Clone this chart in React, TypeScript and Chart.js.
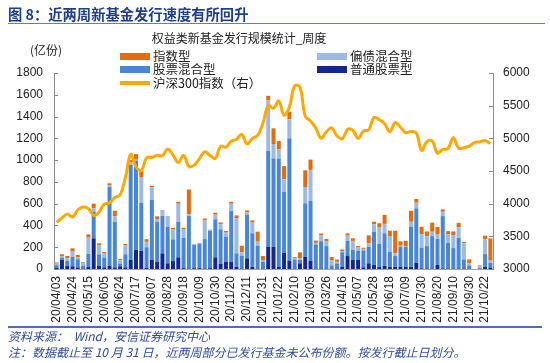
import React, { useEffect, useRef } from 'react';
import { Chart, registerables } from 'chart.js';

Chart.register(...registerables);

// Weekly categories (issue-end week)
const weeks = [
  '20/04/03', '20/04/10', '20/04/17', '20/04/24', '20/04/30', '20/05/08', '20/05/15', '20/05/22', '20/05/29', '20/06/05',
  '20/06/12', '20/06/19', '20/06/24', '20/07/03', '20/07/10', '20/07/17', '20/07/24', '20/07/31', '20/08/07', '20/08/14',
  '20/08/21', '20/08/28', '20/09/04', '20/09/11', '20/09/18', '20/09/25', '20/09/30', '20/10/09', '20/10/16', '20/10/23',
  '20/10/30', '20/11/06', '20/11/13', '20/11/20', '20/11/27', '20/12/04', '20/12/11', '20/12/18', '20/12/25', '20/12/31',
  '21/01/08', '21/01/15', '21/01/22', '21/01/29', '21/02/05', '21/02/10', '21/02/19', '21/02/26', '21/03/05', '21/03/12',
  '21/03/19', '21/03/26', '21/04/02', '21/04/09', '21/04/16', '21/04/23', '21/04/30', '21/05/07', '21/05/14', '21/05/21',
  '21/05/28', '21/06/04', '21/06/11', '21/06/18', '21/06/25', '21/07/02', '21/07/09', '21/07/16', '21/07/23', '21/07/30',
  '21/08/06', '21/08/13', '21/08/20', '21/08/27', '21/09/03', '21/09/10', '21/09/17', '21/09/24', '21/09/30', '21/10/08',
  '21/10/15', '21/10/22', '21/10/29',
];

// 普通股票型 (亿份)
const stockFund = [
  10, 85, 30, 25, 15, 5, 18, 282, 30, 15,
  30, 15, 25, 15, 85, 177, 168, 10, 86, 64,
  144, 52, 73, 107, 8, 5, 8, 8, 5, 8,
  107, 46, 67, 67, 20, 5, 98, 20, 5, 5,
  205, 205, 20, 150, 77, 5, 52, 113, 77, 5,
  5, 5, 5, 5, 21, 119, 83, 83, 15, 52,
  37, 20, 28, 21, 21, 21, 21, 21, 58, 6,
  5, 5, 37, 6, 5, 5, 5, 5, 5, 0,
  3, 21, 9,
];

// 股票混合型
const stockMixed = [
  25, 20, 45, 85, 75, 25, 120, 245, 105, 90,
  722, 416, 25, 120, 870, 818, 438, 190, 551, 367,
  343, 337, 199, 327, 279, 484, 212, 224, 270, 343,
  349, 318, 230, 465, 124, 117, 398, 308, 209, 62,
  880, 811, 995, 560, 1123, 83, 31, 490, 548, 220,
  251, 205, 28, 46, 132, 138, 92, 86, 155, 153,
  306, 210, 300, 138, 98, 184, 184, 367, 499, 190,
  205, 297, 239, 480, 235, 187, 281, 83, 28, 0,
  5, 116, 46,
];

// 偏债混合型
const bondMixed = [
  15, 10, 25, 50, 20, 20, 150, 30, 83, 37,
  15, 52, 28, 80, 25, 15, 239, 49, 113, 28,
  55, 98, 95, 165, 80, 15, 9, 9, 171, 12,
  43, 46, 37, 67, 324, 31, 24, 98, 37, 15,
  465, 132, 83, 113, 174, 9, 15, 150, 285, 15,
  52, 46, 46, 15, 12, 49, 83, 28, 15, 31,
  67, 150, 86, 144, 24, 9, 5, 46, 52, 125,
  92, 40, 40, 40, 77, 119, 98, 147, 18, 0,
  15, 135, 21,
];

// 指数型
const indexFund = [
  10, 20, 20, 30, 20, 12, 30, 43, 18, 15,
  20, 52, 15, 15, 20, 45, 58, 25, 15, 25,
  0, 0, 12, 18, 12, 226, 0, 0, 18, 0,
  18, 18, 15, 18, 24, 61, 18, 21, 92, 37,
  40, 144, 77, 122, 70, 12, 55, 153, 95, 21,
  18, 21, 31, 21, 15, 21, 24, 15, 10, 73,
  24, 40, 83, 49, 208, 40, 49, 101, 34, 67,
  43, 83, 70, 21, 31, 34, 40, 15, 37, 0,
  10, 34, 205,
];

// 沪深300指数 (右轴)
const csi300 = [
  3715, 3780, 3840, 3796, 3905, 3950, 3925, 3820, 3870, 3993,
  4010, 4095, 4135, 4400, 4755, 4565, 4505, 4700, 4710, 4740,
  4735, 4835, 4745, 4630, 4740, 4570, 4590, 4690, 4795, 4735,
  4695, 4880, 4865, 4955, 4985, 5060, 4915, 5000, 5045, 5230,
  5500, 5460, 5570, 5355, 5480, 5805, 5780, 5340, 5265, 5155,
  5000, 5100, 5160, 5035, 4995, 5135, 5120, 5000, 5110, 5130,
  5320, 5285, 5225, 5100, 5240, 5170, 5085, 5105, 5080, 4815,
  4950, 4960, 4775, 4830, 4845, 5010, 4850, 4855, 4880, 4935,
  4945, 4965, 4920,
];

const leftTicks = { min: 0, max: 1800, step: 200 };
const rightTicks = { min: 3000, max: 6000, step: 500 };

const FONT = '"Liberation Sans", "Noto Sans CJK SC", sans-serif';
const CJK = '"Noto Sans CJK SC", "Liberation Sans", sans-serif';

const C_ORANGE = '#E46C0A';
const C_LIGHT = '#9DBAE2';
const C_BLUE = '#4A86D6';
const C_NAVY = '#13298A';
const C_LINE = '#FFA800';

function LegendItem(props: { x: number; y: number; color: string; text: string; line?: boolean }) {
  const { x, y, color, text, line } = props;
  return (
    <div style={{ position: 'absolute', left: x, top: y - 9, height: 18, display: 'flex', alignItems: 'center', whiteSpace: 'nowrap' }}>
      <div style={{ width: 30, height: line ? 4 : 7, background: color, marginRight: 3 }} />
      <span style={{ fontFamily: CJK, fontSize: 12.5, color: '#222', lineHeight: '18px' }}>{text}</span>
    </div>
  );
}

export default function App() {
  const ref = useRef<HTMLCanvasElement | null>(null);

  useEffect(() => {
    const canvas = ref.current;
    if (!canvas) return;
    const inwardTicks = {
      id: 'inwardTicks',
      afterDraw(chart: any) {
        const c = chart.ctx;
        const y = chart.scales.y;
        const y1 = chart.scales.y1;
        c.save();
        c.strokeStyle = '#8c8c8c';
        c.lineWidth = 1;
        y.ticks.forEach((_t: any, i: number) => {
          const py = Math.round(y.getPixelForTick(i)) + 0.5;
          c.beginPath();
          c.moveTo(y.right, py);
          c.lineTo(y.right + 4, py);
          c.stroke();
        });
        y1.ticks.forEach((_t: any, i: number) => {
          const py = Math.round(y1.getPixelForTick(i)) + 0.5;
          c.beginPath();
          c.moveTo(y1.left - 4, py);
          c.lineTo(y1.left, py);
          c.stroke();
        });
        c.restore();
      },
    };

    const barCommon = { stack: 's', order: 1, barPercentage: 0.8, categoryPercentage: 0.95, borderWidth: 0 };

    const chart = new Chart(canvas, {
      type: 'bar',
      data: {
        labels: weeks,
        datasets: [
          {
            type: 'line',
            label: '沪深300指数（右）',
            data: csi300,
            yAxisID: 'y1',
            borderColor: C_LINE,
            backgroundColor: C_LINE,
            borderWidth: 3,
            pointRadius: 0,
            tension: 0.4,
            order: 0,
          } as any,
          { ...barCommon, label: '普通股票型', data: stockFund, backgroundColor: C_NAVY, yAxisID: 'y' },
          { ...barCommon, label: '股票混合型', data: stockMixed, backgroundColor: C_BLUE, yAxisID: 'y' },
          { ...barCommon, label: '偏债混合型', data: bondMixed, backgroundColor: C_LIGHT, yAxisID: 'y' },
          { ...barCommon, label: '指数型', data: indexFund, backgroundColor: C_ORANGE, yAxisID: 'y' },
        ],
      },
      options: {
        responsive: false,
        animation: false,
        devicePixelRatio: 1,
        layout: { padding: { top: 73, left: 0, right: 0, bottom: 0 } },
        plugins: { legend: { display: false }, tooltip: { enabled: false }, title: { display: false } },
        scales: {
          x: {
            stacked: true,
            grid: { display: false, drawTicks: false },
            border: { display: true, color: '#a6a6a6', dash: [2, 2] },
            ticks: {
              autoSkip: false,
              maxRotation: 90,
              minRotation: 90,
              padding: 7,
              color: '#222',
              font: { size: 12, family: FONT },
              callback: (_v: any, i: number) => (i % 3 === 0 ? weeks[i] : ''),
            },
            afterFit: (s: any) => {
              s.height = 94;
            },
          },
          y: {
            stacked: true,
            position: 'left',
            min: leftTicks.min,
            max: leftTicks.max,
            grid: { display: false, drawTicks: false },
            border: { display: true, color: '#8c8c8c' },
            ticks: {
              stepSize: leftTicks.step,
              padding: 11,
              color: '#222',
              font: { size: 12, family: FONT },
              callback: (v: any) => String(v),
            },
            afterFit: (s: any) => {
              s.width = 54;
            },
          },
          y1: {
            position: 'right',
            min: rightTicks.min,
            max: rightTicks.max,
            grid: { display: false, drawTicks: false },
            border: { display: true, color: '#8c8c8c' },
            ticks: {
              stepSize: rightTicks.step,
              padding: 10,
              color: '#222',
              font: { size: 12, family: FONT },
              callback: (v: any) => String(v),
            },
            afterFit: (s: any) => {
              s.width = 57;
            },
          },
        },
      } as any,
      plugins: [inwardTicks],
    });
    return () => chart.destroy();
  }, []);

  return (
    <div style={{ position: 'fixed', left: 0, top: 0, width: 550, height: 363, background: '#fff', overflow: 'hidden' }}>
      <canvas ref={ref} width={550} height={363} style={{ position: 'absolute', left: 0, top: 0, width: 550, height: 363 }} />
      <div style={{ position: 'absolute', left: 8, top: 4, fontFamily: CJK, fontWeight: 700, fontSize: 14.3, color: '#1F3F8C', whiteSpace: 'nowrap', lineHeight: '20px' }}>
        图 8：近两周新基金发行速度有所回升
      </div>
      <div style={{ position: 'absolute', left: 8, top: 23, width: 537, height: 1, background: '#5C7FBF' }} />
      <div style={{ position: 'absolute', left: 0, width: 478, top: 29, textAlign: 'center', fontFamily: CJK, fontSize: 12, color: '#222', lineHeight: '18px', whiteSpace: 'nowrap' }}>
        权益类新基金发行规模统计_周度
      </div>
      <div style={{ position: 'absolute', left: 30, top: 41, fontFamily: CJK, fontSize: 12, color: '#222', lineHeight: '18px' }}>(亿份)</div>
      <LegendItem x={120} y={56} color={C_ORANGE} text="指数型" />
      <LegendItem x={120} y={69} color={C_BLUE} text="股票混合型" />
      <LegendItem x={120} y={83} color={C_LINE} text="沪深300指数（右）" line />
      <LegendItem x={317} y={56} color={C_LIGHT} text="偏债混合型" />
      <LegendItem x={317} y={69} color={C_NAVY} text="普通股票型" />
      <div style={{ position: 'absolute', left: 8, top: 326, width: 534, height: 1.5, background: '#4A6FB5' }} />
      <div style={{ position: 'absolute', left: 8, top: 327, fontFamily: CJK, fontStyle: 'italic', fontSize: 12, color: '#2E4D9B', lineHeight: '18px', whiteSpace: 'nowrap' }}>
        资料来源：&nbsp;&nbsp;Wind，安信证券研究中心
      </div>
      <div style={{ position: 'absolute', left: 8, top: 343, fontFamily: CJK, fontStyle: 'italic', fontSize: 12, color: '#2E4D9B', lineHeight: '18px', whiteSpace: 'nowrap' }}>
        注：数据截止至 10 月 31 日，近两周部分已发行基金未公布份额。按发行截止日划分。
      </div>
    </div>
  );
}
